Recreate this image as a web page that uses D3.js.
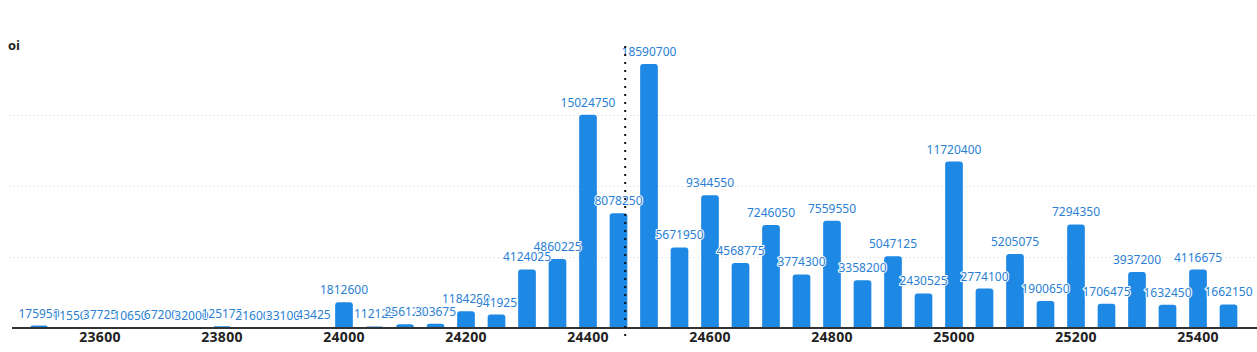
<!DOCTYPE html>
<html>
<head>
<meta charset="utf-8">
<script src="https://cdn.jsdelivr.net/npm/d3@7"></script>
<style>
  body { margin: 0; background: #fff; }
  text { font-family: "Noto Sans", "Open Sans", sans-serif; }
</style>
</head>
<body>
<div class="oiChart"></div>
<script>
// strikes and open interest
const strikes = [23500, 23550, 23600, 23650, 23700, 23750, 23800, 23850, 23900, 23950,
  24000, 24050, 24100, 24150, 24200, 24250, 24300, 24350, 24400, 24450,
  24500, 24550, 24600, 24650, 24700, 24750, 24800, 24850, 24900, 24950,
  25000, 25050, 25100, 25150, 25200, 25250, 25300, 25350, 25400, 25450];
const oi = [175950, 11550, 37725, 10650, 67200, 32000, 125175, 21600, 33100, 43425,
  1812600, 112125, 256125, 303675, 1184250, 941925, 4124025, 4860225, 15024750, 8078250,
  18590700, 5671950, 9344550, 4568775, 7246050, 3774300, 7559550, 3358200, 5047125, 2430525,
  11720400, 2774100, 5205075, 1900650, 7294350, 1706475, 3937200, 1632450, 4116675, 1662150];
const tickStrikes = [23600, 23800, 24000, 24200, 24400, 24600, 24800, 25000, 25200, 25400];
const gridValues = [5000000, 10000000, 15000000];
const spot = 24461;

const W = 1257, H = 352;
const svg = d3.select(".oiChart")
  .append("svg")
  .attr("width", W)
  .attr("height", H);

// scales
const x = d3.scaleBand()
  .domain(strikes)
  .range([23.75, 1243.75])
  .paddingInner(0.42)
  .paddingOuter(0.21);

const y = d3.scaleLinear()
  .domain([0, 20000000])
  .range([328, 44]);

// grid lines
svg.append("g")
  .selectAll("line")
  .data(gridValues)
  .enter().append("line")
  .attr("x1", 10)
  .attr("x2", W)
  .attr("y1", d => y(d) + 0.5)
  .attr("y2", d => y(d) + 0.5)
  .attr("stroke", "#d6d6d6")
  .attr("stroke-dasharray", "1,3");

// y label
svg.append("text")
  .attr("x", 8)
  .attr("y", 50)
  .style("font-family", "'Open Sans', sans-serif")
  .style("font-size", "13px")
  .style("font-weight", "bold")
  .attr("fill", "#222")
  .text("oi");

// bars with rounded tops
const r = 3;
svg.append("g")
  .selectAll("path")
  .data(strikes)
  .enter().append("path")
  .attr("fill", "#1e88e5")
  .attr("d", (s, i) => {
    const x0 = x(s), w = x.bandwidth();
    const y0 = y(0), y1 = y(oi[i]);
    const h = y0 - y1;
    const rr = Math.min(r, h, w / 2);
    return `M${x0},${y0}V${y1 + rr}Q${x0},${y1} ${x0 + rr},${y1}H${x0 + w - rr}Q${x0 + w},${y1} ${x0 + w},${y1 + rr}V${y0}Z`;
  });

// x axis
const axis = svg.append("g")
  .attr("transform", `translate(0,${y(0)})`)
  .call(d3.axisBottom(x).tickValues(tickStrikes).tickSize(0).tickPadding(4));
axis.select(".domain").remove();
axis.append("line")
  .attr("x1", 12)
  .attr("x2", W)
  .attr("stroke", "#333")
  .attr("stroke-width", 2);
axis.selectAll("text")
  .style("font-family", "'Open Sans', sans-serif")
  .style("font-size", "14px")
  .style("font-weight", "bold")
  .style("letter-spacing", "0.3px")
  .attr("fill", "#222");

// value labels
svg.append("g")
  .selectAll("text")
  .data(strikes)
  .enter().append("text")
  .attr("x", s => x(s) + x.bandwidth() / 2)
  .attr("y", (s, i) => y(oi[i]) - 8)
  .attr("text-anchor", "middle")
  .style("font-size", "12px")
  .attr("fill", "#2a7fd4")
  .attr("stroke", "#fff")
  .attr("stroke-width", 2)
  .attr("paint-order", "stroke")
  .text((s, i) => oi[i]);

// spot line
const sx = d3.scaleLinear()
  .domain([strikes[0], strikes[strikes.length - 1]])
  .range([x(strikes[0]) + x.bandwidth() / 2, x(strikes[strikes.length - 1]) + x.bandwidth() / 2]);
svg.append("line")
  .attr("x1", sx(spot))
  .attr("x2", sx(spot))
  .attr("y1", 46)
  .attr("y2", 342)
  .attr("stroke", "#111")
  .attr("stroke-width", 2)
  .attr("stroke-dasharray", "2,6");
</script>
</body>
</html>
